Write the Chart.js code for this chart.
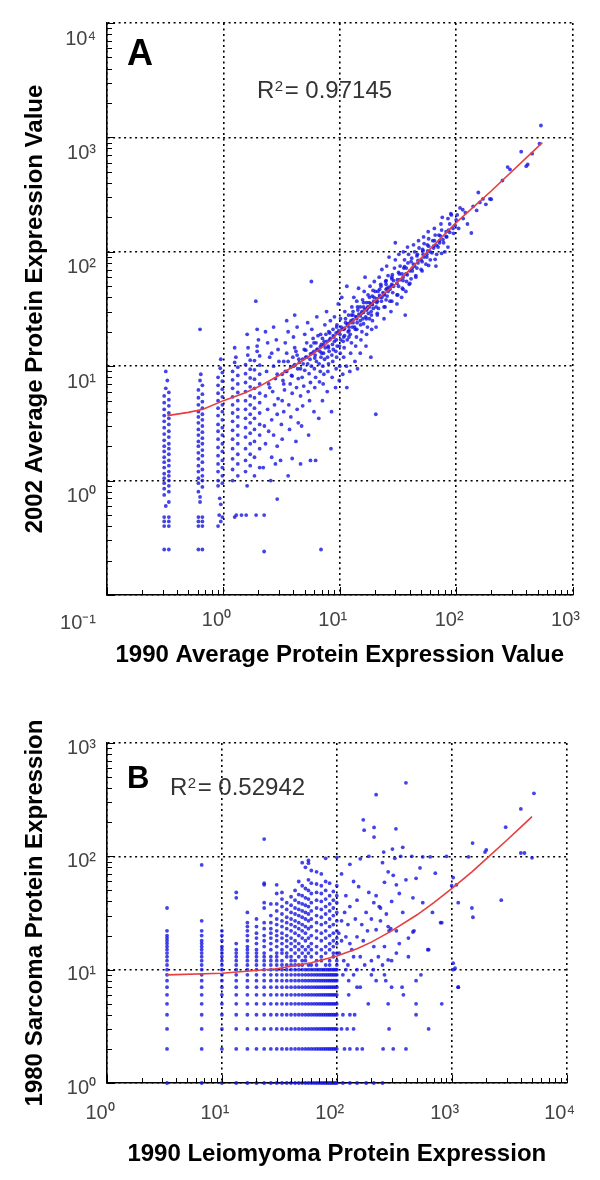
<!DOCTYPE html>
<html><head><meta charset="utf-8">
<script src="https://cdn.jsdelivr.net/npm/chart.js@4.4.1/dist/chart.umd.min.js"></script>
<style>
html,body{margin:0;padding:0;background:#fff;width:600px;height:1180px;overflow:hidden;}
#cA{position:absolute;left:0;top:0;}
#cB{position:absolute;left:0;top:680px;}
</style></head><body>
<canvas id="cA" width="600" height="680"></canvas>
<canvas id="cB" width="600" height="500"></canvas>
<script>
// ---------------- DATA : panel A ----------------
const xTicksA = [0.1, 1, 10, 100, 1000];
const yTicksA = [0.1, 1, 10, 100, 1000, 10000];
const xTickLabelsA = ['', '10\u2070', '10\u00B9', '10\u00B2', '10\u00B3'];
const yTickLabelsA = [['', '10\u207B\u00B9'], '10\u2070', '10\u00B9', '10\u00B2', '10\u00B3', '10\u2074'];
const xTitleA = '1990 Average Protein Expression Value';
const yTitleA = '2002 Average Protein Expression Value';
const r2A = '0.97145';
const fitXA = [0.33, 0.5, 0.67, 1, 1.5, 2, 3, 5, 7, 10, 15, 20, 30, 50, 100, 200, 550];
const fitYA = [3.7, 3.95, 4.2, 5.0, 5.8, 6.6, 8.3, 11.5, 14.5, 20, 28, 37, 52, 88, 180, 340, 900];
// discrete low-value columns
const colsA = [
[0.31,0.25],[0.34,0.25],[0.31,0.4],[0.34,0.4],[0.31,0.44],[0.34,0.44],[0.31,0.48],[0.34,0.48],[0.32,0.6],[0.34,0.65],[0.31,0.75],[0.34,0.8],[0.31,0.85],[0.34,0.9],[0.31,0.95],[0.34,1.0],[0.31,1.05],[0.34,1.1],[0.31,1.15],[0.34,1.2],[0.31,1.3],[0.34,1.35],[0.31,1.45],[0.34,1.5],[0.31,1.6],[0.34,1.7],[0.31,1.8],[0.34,1.9],[0.31,2.0],[0.34,2.1],[0.31,2.25],[0.34,2.4],[0.31,2.55],[0.34,2.7],[0.31,2.9],[0.34,3.1],[0.31,3.3],[0.34,3.5],[0.31,3.7],[0.34,3.9],[0.31,4.2],[0.34,4.5],[0.31,4.8],[0.34,5.1],[0.31,5.5],[0.34,5.9],[0.32,6.4],[0.33,7.5],[0.32,9.0],
[0.61,0.25],[0.66,0.25],[0.61,0.4],[0.66,0.4],[0.61,0.44],[0.66,0.44],[0.61,0.48],[0.66,0.48],[0.63,0.65],[0.63,0.72],[0.61,0.8],[0.66,0.88],[0.61,0.95],[0.66,1.0],[0.61,1.05],[0.66,1.1],[0.61,1.2],[0.66,1.25],[0.61,1.35],[0.66,1.45],[0.61,1.55],[0.66,1.65],[0.61,1.75],[0.66,1.85],[0.61,2.0],[0.66,2.1],[0.61,2.2],[0.66,2.35],[0.61,2.5],[0.66,2.65],[0.61,2.8],[0.66,3.0],[0.61,3.2],[0.66,3.4],[0.61,3.6],[0.66,3.8],[0.61,4.0],[0.66,4.3],[0.61,4.6],[0.66,4.9],[0.61,5.3],[0.66,5.7],[0.61,6.2],[0.66,6.8],[0.63,7.5],[0.64,8.5],[0.63,21],
[0.9,0.4],[0.95,0.44],[0.98,0.48],[0.92,0.5],[0.95,0.62],[0.93,0.7],[0.9,0.9],[0.98,0.95],[0.9,1.0],[0.98,1.1],[0.9,1.2],[0.98,1.3],[0.9,1.4],[0.98,1.5],[0.9,1.65],[0.98,1.8],[0.9,1.95],[0.98,2.1],[0.9,2.3],[0.98,2.5],[0.9,2.7],[0.98,2.9],[0.9,3.1],[0.98,3.4],[0.9,3.7],[0.98,4.0],[0.9,4.3],[0.98,4.6],[0.9,5.0],[0.98,5.4],[0.9,5.8],[0.98,6.3],[0.9,6.8],[0.98,7.4],[0.9,8.0],[0.98,8.8],[0.94,9.6],[0.95,11.5],
[1.25,0.48],[1.29,0.5],[1.2,1.0],[1.33,1.1],[1.2,1.25],[1.33,1.4],[1.2,1.55],[1.33,1.7],[1.2,1.9],[1.33,2.1],[1.2,2.3],[1.33,2.5],[1.2,2.75],[1.33,3.0],[1.2,3.3],[1.33,3.6],[1.2,3.9],[1.33,4.2],[1.2,4.6],[1.33,5.0],[1.2,5.4],[1.33,5.9],[1.2,6.4],[1.33,7.0],[1.2,7.6],[1.33,8.3],[1.2,9.0],[1.33,9.8],[1.25,10.8],[1.28,12],[1.25,14.5],[1.43,0.5],[1.9,37],
[1.57,0.5],[1.6,0.9],[1.55,1.2],[1.7,1.35],[1.55,1.5],[1.7,1.7],[1.55,1.9],[1.7,2.1],[1.55,2.4],[1.7,2.6],[1.55,2.9],[1.7,3.2],[1.55,3.5],[1.7,3.8],[1.55,4.2],[1.7,4.6],[1.55,5.0],[1.7,5.5],[1.55,6.0],[1.7,6.6],[1.55,7.2],[1.7,7.9],[1.55,8.6],[1.7,9.4],[1.55,10.3],[1.7,11.3],[1.62,12.5],[1.63,14.5],[1.6,19],
[1.91,0.5],[1.85,1.1],[2.05,1.3],[1.85,1.6],[2.05,1.9],[1.85,2.2],[2.05,2.5],[1.85,2.8],[2.05,3.1],[1.85,3.5],[2.05,3.9],[1.85,4.3],[2.05,4.8],[1.85,5.3],[2.05,5.8],[1.85,6.4],[2.05,7.0],[1.85,7.7],[2.05,8.5],[1.85,9.3],[2.05,10.2],[1.85,11.2],[2.05,12.3],[1.95,13.5],[1.95,15],[2.0,17],[1.95,21],[2.24,0.5],[2.24,0.24],[2.9,0.69],[6.9,0.25],[20.4,3.8]
];
// continuous cloud
const cloudA = [
[2.2,1.3],[2.3,2.1],[2.25,3.0],[2.4,4.2],[2.3,5.5],[2.45,7],[2.35,9],[2.5,12],[2.4,16],[2.3,20],[2.6,1.6],[2.7,2.5],[2.6,3.4],[2.75,4.6],[2.65,6],[2.8,7.8],[2.7,10],[2.6,13],[2.85,17],[2.55,1.0],[2.9,2.0],[2.9,3.8],[2.95,5.2],[2.9,8.5],[3.0,11],[2.95,14],[2.5,6.5],[2.45,2.7],[2.8,1.4],[2.7,22],
[3.1,1.5],[3.2,2.3],[3.15,3.1],[3.3,4],[3.2,5],[3.35,6.2],[3.25,7.5],[3.4,9],[3.3,11],[3.5,13],[3.4,16],[3.6,20],[3.5,25],[3.6,1.1],[3.7,2.8],[3.8,3.6],[3.65,4.6],[3.9,5.8],[3.75,7],[3.85,8.3],[4.0,10],[3.95,12],[4.1,14.5],[4.0,18],[4.2,2.2],[4.3,4.2],[4.25,6.5],[4.4,7.8],[4.35,9.5],[4.45,11.5],[4.2,13.5],[4.3,22],[3.9,1.56],[4.4,3.2],[4.1,28],
[4.6,1.4],[4.7,3],[4.8,4.5],[4.6,5.5],[4.9,6.7],[4.75,8],[5.0,9.2],[4.85,10.5],[5.1,12],[4.95,14],[5.2,16],[5.0,19],[5.3,24],[5.4,2.5],[5.5,5],[5.35,6],[5.6,7.2],[5.45,8.6],[5.7,10],[5.55,11.5],[5.8,13],[5.65,15],[5.9,17.5],[5.75,21],[5.6,1.5],[6.0,4],[6.1,6.5],[6.2,8],[6.05,9.5],[6.3,11],[6.15,12.5],[6.4,14],[6.25,16],[6.5,18.5],[6.35,27],[6.6,3.5],[6.7,7.3],[6.8,9],[6.65,10.5],[6.9,12],[6.75,13.5],[6.95,15.5],[6.85,19],[5.7,55],[6.2,1.5],
[7.1,5],[7.2,7],[7.3,8.5],[7.15,10],[7.4,11.5],[7.25,13],[7.5,14.5],[7.35,16.5],[7.6,19],[7.45,23],[7.7,30],[7.8,6],[7.9,9],[8.0,10.5],[7.85,12],[8.1,13.5],[7.95,15],[8.2,17],[8.05,20],[8.3,25],[8.5,4],[8.6,8],[8.7,11],[8.55,12.5],[8.8,14],[8.65,15.5],[8.9,18],[8.75,21],[9.0,27],[8.4,1.9],[9.2,6.5],[9.3,9.5],[9.4,12],[9.25,13.5],[9.5,15],[9.35,17],[9.6,19.5],[9.45,23],[9.7,35],[9.9,7.5],[10.0,10],[10.1,13],[9.95,15],[10.2,17],[10.05,19],[10.3,22],[10.15,26],[10.4,40],[10.6,8.5],[10.8,12],[10.9,14.5],[10.7,16.5],[11.0,18.5],[10.85,21],[11.2,24],[11.05,30],[11.5,6.5],[11.4,10],[11.6,17],[11.8,20],[11.7,23.5],[11.9,28],[11.5,50],
[3.2,8.5],[3.5,9],[3.8,9.8],[4.1,10.3],[4.5,10.8],[4.8,11.5],[5.2,12],[5.6,12.8],[6.0,13.5],[6.4,14],[6.8,14.8],[7.3,15.5],[7.8,16.5],[8.3,17.5],[8.8,18.5],[9.3,19.5],[9.8,20.5],[3.3,7],[3.9,8.2],[4.6,9.5],[5.3,10.5],[6.1,11.8],[7.0,13],[8.0,14.5],[9.0,16.5],[3.6,11],[4.3,12.5],[5.1,13.8],[6.0,16],[7.1,17.5],[8.2,19.5],[9.4,22],
[12.2,9],[12.4,13],[12.6,16],[12.3,19],[12.8,22],[12.5,25],[13.0,28],[12.7,33],[13.2,40],[13.5,11],[13.7,15],[13.9,18],[13.6,21],[14.1,24],[13.8,27],[14.3,31],[14.0,37],[14.5,48],[15.0,13],[15.2,17],[15.5,20],[15.1,23],[15.8,26],[15.4,29],[16.0,33],[15.7,38],[16.2,45],[16.5,60],[16.8,15],[17.0,19],[17.3,22],[16.9,26],[17.6,29],[17.2,32],[17.9,36],[17.5,42],[18.2,50],[18.5,12],[18.8,21],[19.1,25],[18.7,28],[19.4,32],[19.0,35],[19.7,40],[19.3,46],[19.8,55],[14.2,9.5],
[10.5,21],[11,21.5],[11.6,23],[12.3,24],[13,25.5],[13.8,27],[14.6,28.5],[15.5,30],[16.4,31.5],[17.4,33],[18.5,35],[19.6,37],[20.8,39],[22,41.5],[23.5,44],[25,47],[26.5,49],[28,52],[10.8,18],[12,20.5],[13.4,22],[15,25],[16.7,27],[18.6,30],[20.5,33],[22.8,37],[25.5,41],[11.2,26],[12.6,28],[14.2,33],[16,36],[18,40],[20.2,45],[22.6,50],[25,56],[28,60],
[12,22],[13,24],[14,26],[15,27.5],[16,29.5],[17,31],[18,33],[19,34.5],[21,37],[23,40],[24,42],[26,45],[27,47],[29,50],[31,53],[33,57],[35,60],[37,64],[40,68],[42,72],[44,75],[47,80],[50,85],[53,90],[56,95],[60,100],[64,108],[68,114],[72,120],[77,128],[82,136],[88,148],[94,160],
[13,30],[15,33],[17,36],[19,41],[22,47],[25,52],[28,58],[32,66],[36,74],[41,82],[46,92],[52,102],[58,112],[65,125],[73,138],[82,150],
[12,18],[14,21],[16,23.5],[18,26],[21,29],[24,33],[27,37],[31,42],[35,47],[40,53],[45,60],[51,68],[58,76],[66,86],[75,97],[85,110],
[20.5,22],[21,28],[21.5,32],[20.8,36],[22,40],[21.3,45],[22.5,52],[21.8,60],[23,70],[24,26],[24.5,33],[25,38],[24.2,43],[25.5,48],[24.8,55],[26,62],[25.3,75],[26.5,90],[27.5,30],[28,37],[28.5,44],[27.8,50],[29,56],[28.3,63],[29.5,72],[30,85],[31,35],[31.5,42],[32,50],[31.3,57],[32.5,64],[33,75],[32.2,95],[34,40],[34.5,48],[35,56],[34.3,64],[35.5,72],[36,85],[35.2,100],[37,45],[37.5,55],[38,63],[37.3,72],[38.5,80],[39,95],[38.2,110],[39.5,52],[36.5,28],[30,120],
[41,58],[42,68],[43,78],[41.5,88],[44,100],[43,115],[45,62],[46,72],[47,84],[46.5,95],[48,108],[47.5,125],[50,70],[51,82],[52,95],[51.5,105],[53,118],[52.5,135],[55,78],[56,90],[57,102],[56.5,115],[58,130],[57.5,150],[60,85],[62,98],[64,112],[63,125],[66,140],[65,160],[68,95],[70,110],[72,125],[71,140],[75,155],[74,175],[78,120],[80,100],[76,200],[67,75],
[83,135],[86,155],[88,175],[85,195],[90,215],[95,145],[98,170],[100,190],[102,210],[108,242],[114,233],[91,210],[105,160],[115,195],[120,220],[125,175],[135,146],[140,250],[150,230],[155,330],[160,270],[170,290],[180,260],[195,290],[200,288],
[277,550],[290,525],[362,750],[400,560],[412,580],[535,1270],[250,420],[450,720],[520,880]
];

// ---------------- DATA : panel B ----------------
const xTicksB = [1, 10, 100, 1000, 10000];
const yTicksB = [1, 10, 100, 1000];
const xTickLabelsB = ['10\u2070', '10\u00B9', '10\u00B2', '10\u00B3', '10\u2074'];
const yTickLabelsB = ['10\u2070', '10\u00B9', '10\u00B2', '10\u00B3'];
const xTitleB = '1990 Leiomyoma Protein Expression';
const yTitleB = '1980 Sarcoma Protein Expression';
const r2B = '0.52942';
const fitXB = [3.33, 10, 30, 60, 100, 150, 200, 300, 500, 700, 1000, 1500, 2000, 3000, 4000, 5000];
const fitYB = [9.0, 9.3, 10.2, 11.5, 13.2, 15.3, 17.5, 22, 30.5, 39, 52, 73, 95, 138, 181, 224];
// discrete Leiomyoma levels that fill the integer rows
const levelsB = [3.33, 6.67, 10, 13.33, 16.67, 20, 23.33, 26.67, 30, 33.33, 36.67, 40, 43.33, 46.67, 50, 53.33, 56.67, 60, 63.33, 66.67, 70, 73.33, 76.67, 80, 83.33, 86.67, 90, 93.33, 96.67, 100];
const rowYB = [1, 2, 3, 4, 5, 6, 7, 8, 9, 10];
const rowExtraB = [
[113, 130, 150, 180, 210, 250],
[116.7, 130, 150, 166.7, 253, 310, 400],
[110, 123, 140, 285, 630],
[113, 130, 143, 490],
[188, 280, 490, 820],
[127, 380],
[150, 160, 300, 370, 1140],
[127, 220, 267, 490],
[113, 140, 200, 260, 540],
[120, 150, 208, 1030]
];
// values above 10 in the low columns
const upperXB = [3.33, 6.67, 10, 13.33, 16.67, 20, 23.33, 26.67, 30, 33.33, 36.67, 40, 43.33, 46.67, 50, 53.33, 56.67, 60, 66.67, 73.33, 80, 86.67, 93.33, 100];
const upperYB = [
[11,12,13,14,15,16,17,18,19,20,22,35],
[11,12,13,14,15,16,17,18,20,22,27,84],
[11,12,13,14,15,16,18,20,22],
[11,12,13,14,15,17,43,48],
[11,12,13,14,15,16,18,20,22,24,26,32],
[11,12,13,14,15,17,19,21,24,28],
[11,12,13,14,16,18,20,23,26,35,39,56,58,142],
[11,12,13,15,17,19,21,23,26,30,38],
[11,12,13,14,16,18,20,22,25,28,33,38,47,56],
[11,12,14,15,17,19,21,24,27,31,36,42,48],
[11,13,14,16,18,20,23,26,29,34,39],
[11,12,13,15,17,19,22,25,28,32,37,44],
[11,12,14,16,18,21,24,27,31,35,41,50],
[11,13,15,17,20,23,26,30,34,39,46,60],
[11,12,14,16,19,22,25,29,33,38,45,55,88],
[12,13,15,18,21,24,28,32,37,43,52,80],
[11,14,16,19,23,27,31,36,42,50,62,87,92],
[11,13,15,17,20,24,28,33,39,47,58,75],
[11,12,14,16,19,22,26,30,35,41,48,57,73],
[12,13,15,18,21,25,29,34,40,47,55,70],
[11,14,16,19,22,26,31,36,42,50,60,96],
[11,12,15,17,20,24,28,33,38,45,58],
[13,14,16,18,21,25,30,35,41,49],
[11,12,14,17,19,22,27,32,39,45,55,98]
];
const sparseB = [
[104,21],[105,14],[110,18],[110,27],[117,32],[120,19.5],[130,17],[130,36],[140,13],[150,19.5],[150,41],[155,54],[170,18],[180,32],[190,48],[210,16],[210,39],[220,22.5],[220,45],[240,35],[260,16],[260,59],[280,12.2],[280,24],[280,73],[285,22],[295,23],[310,68],[330,14],[330,22],[330,56],[350,47],[375,32],[400,62],[420,19],[460,21.5],[460,43],[490,64],[530,79],[560,39],[560,99],[620,15],[650,99],[680,32],[720,71],[800,26],[470,22],[630,15],[820,26],
[1070,10.3],[1030,11.4],[1140,7],[1140,39],[1100,56],[1030,65],[1400,99],[1950,109],[1500,35],[1530,29],[2700,41],[1520,131],[2000,114],[2950,181],[4000,262],[5200,360],[4000,107],[4300,107],[5000,97],
[400,445],[220,350],[170,210],[211,180],[211,148],[327,175],[173,170],[375,120],[256,109],[305,116],[234,36],
[115,12],[125,11],[135,15],[160,13],[175,11],[200,12],[230,13],[250,11],[300,12],[350,17],[420,13],[125,25],[145,28],[165,25],[185,22],[200,28],[240,27],[270,31],[300,40],[120,45],[140,60],[110,70],[130,85],[160,95],[190,100],[250,88],[320,96],[360,100],[450,100],[900,100],[1000,55]
];

const minorMult = [2, 3, 4, 5, 6, 7, 8, 9];

// ---------------- build ----------------
const FONT = '"Liberation Sans", Arial, Helvetica, sans-serif';
const toXY = arr => arr.map(p => ({x: p[0], y: p[1]}));
const zipXY = (xs, ys) => xs.map((x, i) => ({x, y: ys[i]}));

const ptsA = toXY(colsA.concat(cloudA));
const ptsB = [];
rowYB.forEach((y, i) => { levelsB.concat(rowExtraB[i]).forEach(x => ptsB.push({x, y})); });
upperXB.forEach((x, i) => { upperYB[i].forEach(y => ptsB.push({x, y})); });
toXY(sparseB).forEach(p => ptsB.push(p));

const decor = {
  id: 'decor',
  afterDraw(chart, args, o) {
    const {ctx, chartArea: a, scales: {x, y}} = chart;
    ctx.save();
    ctx.strokeStyle = '#000';
    ctx.lineWidth = 1;
    ctx.beginPath();
    o.yTicks.forEach(d => {
      minorMult.forEach(m => {
        const v = d * m; if (v >= y.max) return;
        const p = Math.round(y.getPixelForValue(v)) + 0.5;
        ctx.moveTo(a.left, p); ctx.lineTo(a.left + 5, p);
      });
      const p = Math.round(y.getPixelForValue(d)) + 0.5;
      ctx.moveTo(a.left, p); ctx.lineTo(a.left + 8, p);
    });
    o.xTicks.forEach(d => {
      minorMult.forEach(m => {
        const v = d * m; if (v >= x.max) return;
        const p = Math.round(x.getPixelForValue(v)) + 0.5;
        ctx.moveTo(p, a.bottom); ctx.lineTo(p, a.bottom - 5);
      });
      const p = Math.round(x.getPixelForValue(d)) + 0.5;
      ctx.moveTo(p, a.bottom); ctx.lineTo(p, a.bottom - 8);
    });
    ctx.stroke();
    // panel letter
    ctx.fillStyle = '#000';
    ctx.textAlign = 'left';
    ctx.textBaseline = 'alphabetic';
    ctx.font = 'bold ' + o.letterSize + 'px ' + FONT;
    ctx.fillText(o.letter, a.left + 20, a.top + o.letterDy);
    // R^2 text
    const rx = a.left + o.r2Dx, ry = a.top + o.r2Dy;
    ctx.fillStyle = '#333';
    ctx.font = '24px ' + FONT;
    ctx.fillText('R', rx, ry);
    const w1 = ctx.measureText('R').width;
    ctx.font = '15px ' + FONT;
    ctx.fillText('2', rx + w1 + 0.5, ry - 7);
    const w2 = ctx.measureText('2').width;
    ctx.font = '24px ' + FONT;
    ctx.fillText('= ' + o.r2, rx + w1 + w2 + 2, ry);
    ctx.restore();
  }
};

function makeChart(id, cfg) {
  const tickFont = {family: FONT, size: 20};
  const titleFont = {family: FONT, size: 24, weight: 'bold'};
  return new Chart(document.getElementById(id), {
    type: 'scatter',
    data: {
      datasets: [
        {data: zipXY(cfg.fitX, cfg.fitY), showLine: true, borderColor: 'rgb(232,62,62)', borderWidth: 1.6,
         pointRadius: 0, fill: false, tension: 0, order: 0},
        {data: cfg.pts, backgroundColor: 'rgba(20,20,225,0.8)', borderWidth: 0, pointRadius: 1.9, order: 1, clip: false}
      ]
    },
    options: {
      responsive: false, animation: false, events: [],
      layout: {autoPadding: false, padding: {left: 0, top: cfg.padTop, right: cfg.padRight, bottom: 0}},
      plugins: {legend: {display: false}, tooltip: {enabled: false},
        decor: {xTicks: cfg.xTicks, yTicks: cfg.yTicks, letter: cfg.letter, letterSize: cfg.letterSize,
                letterDy: cfg.letterDy, r2: cfg.r2, r2Dx: cfg.r2Dx, r2Dy: cfg.r2Dy}},
      scales: {
        x: {
          type: 'logarithmic', min: cfg.xTicks[0], max: cfg.xTicks[cfg.xTicks.length - 1],
          afterBuildTicks: s => { s.ticks = cfg.xTicks.map(v => ({value: v})); },
          afterFit: s => { s.height = cfg.xAxisH; },
          grid: {color: '#000', lineWidth: 1.6, drawTicks: false},
          border: {display: true, color: '#000', width: 1.6, dash: [2, 3.5]},
          ticks: {color: '#444', font: tickFont, padding: cfg.xTickPad, labelOffset: -7, autoSkip: false, maxRotation: 0,
                  callback: (v, i) => cfg.xLabels[i]},
          title: {display: true, text: cfg.xTitle, color: '#000', font: titleFont, padding: {top: 0, bottom: cfg.xTitlePad}}
        },
        y: {
          type: 'logarithmic', min: cfg.yTicks[0], max: cfg.yTicks[cfg.yTicks.length - 1],
          afterBuildTicks: s => { s.ticks = cfg.yTicks.map(v => ({value: v})); },
          afterFit: s => { s.width = 107; },
          grid: {color: '#000', lineWidth: 1.6, drawTicks: false},
          border: {display: true, color: '#000', width: 1.6, dash: [2, 3.5]},
          ticks: {color: '#444', font: tickFont, padding: 11, labelOffset: cfg.yLabelOffset, autoSkip: false,
                  callback: (v, i) => cfg.yLabels[i]},
          title: {display: true, text: cfg.yTitle, color: '#000', font: titleFont, padding: {top: 21, bottom: 0}}
        }
      }
    },
    plugins: [decor]
  });
}

makeChart('cA', {
  pts: ptsA, fitX: fitXA, fitY: fitYA, xTicks: xTicksA, yTicks: yTicksA,
  xLabels: xTickLabelsA, yLabels: yTickLabelsA, xTitle: xTitleA, yTitle: yTitleA,
  padTop: 23, padRight: 24, xAxisH: 85, xTickPad: 13, xTitlePad: 10, yLabelOffset: 16,
  letter: 'A', letterSize: 36, letterDy: 42, r2: r2A, r2Dx: 150, r2Dy: 75
});
makeChart('cB', {
  pts: ptsB, fitX: fitXB, fitY: fitYB, xTicks: xTicksB, yTicks: yTicksB,
  xLabels: xTickLabelsB, yLabels: yTickLabelsB, xTitle: xTitleB, yTitle: yTitleB,
  padTop: 63, padRight: 27, xAxisH: 97, xTickPad: 18, xTitlePad: 11, yLabelOffset: 5,
  letter: 'B', letterSize: 31, letterDy: 45, r2: r2B, r2Dx: 63, r2Dy: 52
});
</script>
</body></html>
